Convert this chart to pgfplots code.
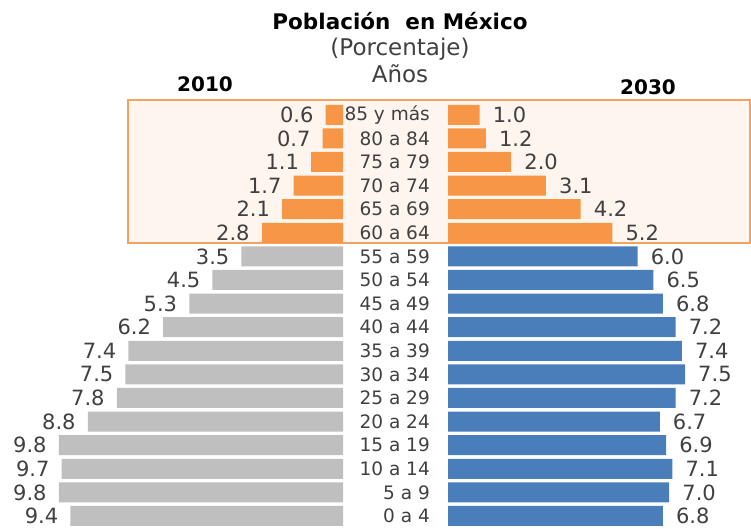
\documentclass[border=0pt]{standalone}
\usepackage{fontspec}
\setmainfont{DejaVu Sans}
\usepackage{pgfplots}
\pgfplotsset{compat=1.18}
\definecolor{barorange}{HTML}{F79646}
\definecolor{bargray}{HTML}{BFBFBF}
\definecolor{barblue}{HTML}{4A7EBB}
\definecolor{boxline}{HTML}{F4A261}
\definecolor{boxfill}{HTML}{FEF5EE}
\definecolor{txt}{HTML}{404040}
\begin{document}
\begin{tikzpicture}[x=1pt,y=1pt]
\useasboundingbox (0,0) rectangle (751,529);
\fill[boxfill] (128,286) rectangle (750,429);
\draw[boxline, line width=2pt] (128,286) rectangle (750,429);
\begin{axis}[
 at={(343pt,1.2pt)}, anchor=south east,
 scale only axis, width=333.5pt, height=424.8pt,
 xmin=0, xmax=11.5, ymin=-0.5, ymax=17.5, x dir=reverse,
 hide axis, clip=false,
 xbar, bar width=20pt, bar shift=0pt,
 point meta=x,
 nodes near coords,
 every node near coord/.append style={anchor=east, inner sep=0pt, xshift=-12pt, yshift=0pt, font=\fontsize{21}{21}\selectfont, text=txt},
 /pgf/number format/fixed, /pgf/number format/fixed zerofill, /pgf/number format/precision=1, /pgf/number format/assume math mode=true,
]
\addplot[fill=bargray, draw=none] coordinates {(9.4,0) (9.8,1) (9.7,2) (9.8,3) (8.8,4) (7.8,5) (7.5,6) (7.4,7) (6.2,8) (5.3,9) (4.5,10) (3.5,11)};
\addplot[fill=barorange, draw=none] coordinates {(2.8,12) (2.1,13) (1.7,14) (1.1,15) (0.7,16) (0.6,17)};
\end{axis}
\begin{axis}[
 at={(448pt,1.2pt)}, anchor=south west,
 scale only axis, width=303.4pt, height=424.8pt,
 xmin=0, xmax=9.6, ymin=-0.5, ymax=17.5,
 axis line style={draw=none}, xtick=\empty, ytick={0,...,17}, major tick length=0pt,
 yticklabels={0 a 4, 5 a 9, 10 a 14, 15 a 19, 20 a 24, 25 a 29, 30 a 34, 35 a 39, 40 a 44, 45 a 49, 50 a 54, 55 a 59, 60 a 64, 65 a 69, 70 a 74, 75 a 79, 80 a 84, 85 y más},
 yticklabel style={anchor=east, inner sep=0pt, xshift=-18pt, font=\fontsize{18.5}{18.5}\selectfont, text=txt},
 clip=false, xbar, bar width=20pt, bar shift=0pt, point meta=x, nodes near coords,
 every node near coord/.append style={anchor=west, inner sep=0pt, xshift=13pt, yshift=0pt, font=\fontsize{21}{21}\selectfont, text=txt},
 /pgf/number format/fixed, /pgf/number format/fixed zerofill, /pgf/number format/precision=1, /pgf/number format/assume math mode=true,
]
\addplot[fill=barblue, draw=none] coordinates {(6.8,0) (7.0,1) (7.1,2) (6.9,3) (6.7,4) (7.2,5) (7.5,6) (7.4,7) (7.2,8) (6.8,9) (6.5,10) (6.0,11)};
\addplot[fill=barorange, draw=none] coordinates {(5.2,12) (4.2,13) (3.1,14) (2.0,15) (1.2,16) (1.0,17)};
\end{axis}
\node[anchor=base, font=\fontsize{21.5}{21.5}\selectfont\bfseries, text=black] at (400,499) {Población\hspace{0.35em} en México};
\node[anchor=base, font=\fontsize{23}{23}\selectfont, text=txt] at (400,473) {(Porcentaje)};
\node[anchor=base, font=\fontsize{23}{23}\selectfont, text=txt] at (400,446) {Años};
\node[anchor=base, font=\fontsize{20}{20}\selectfont\bfseries, text=black] at (205,437) {2010};
\node[anchor=base, font=\fontsize{20}{20}\selectfont\bfseries, text=black] at (648,434) {2030};
\end{tikzpicture}
\end{document}
